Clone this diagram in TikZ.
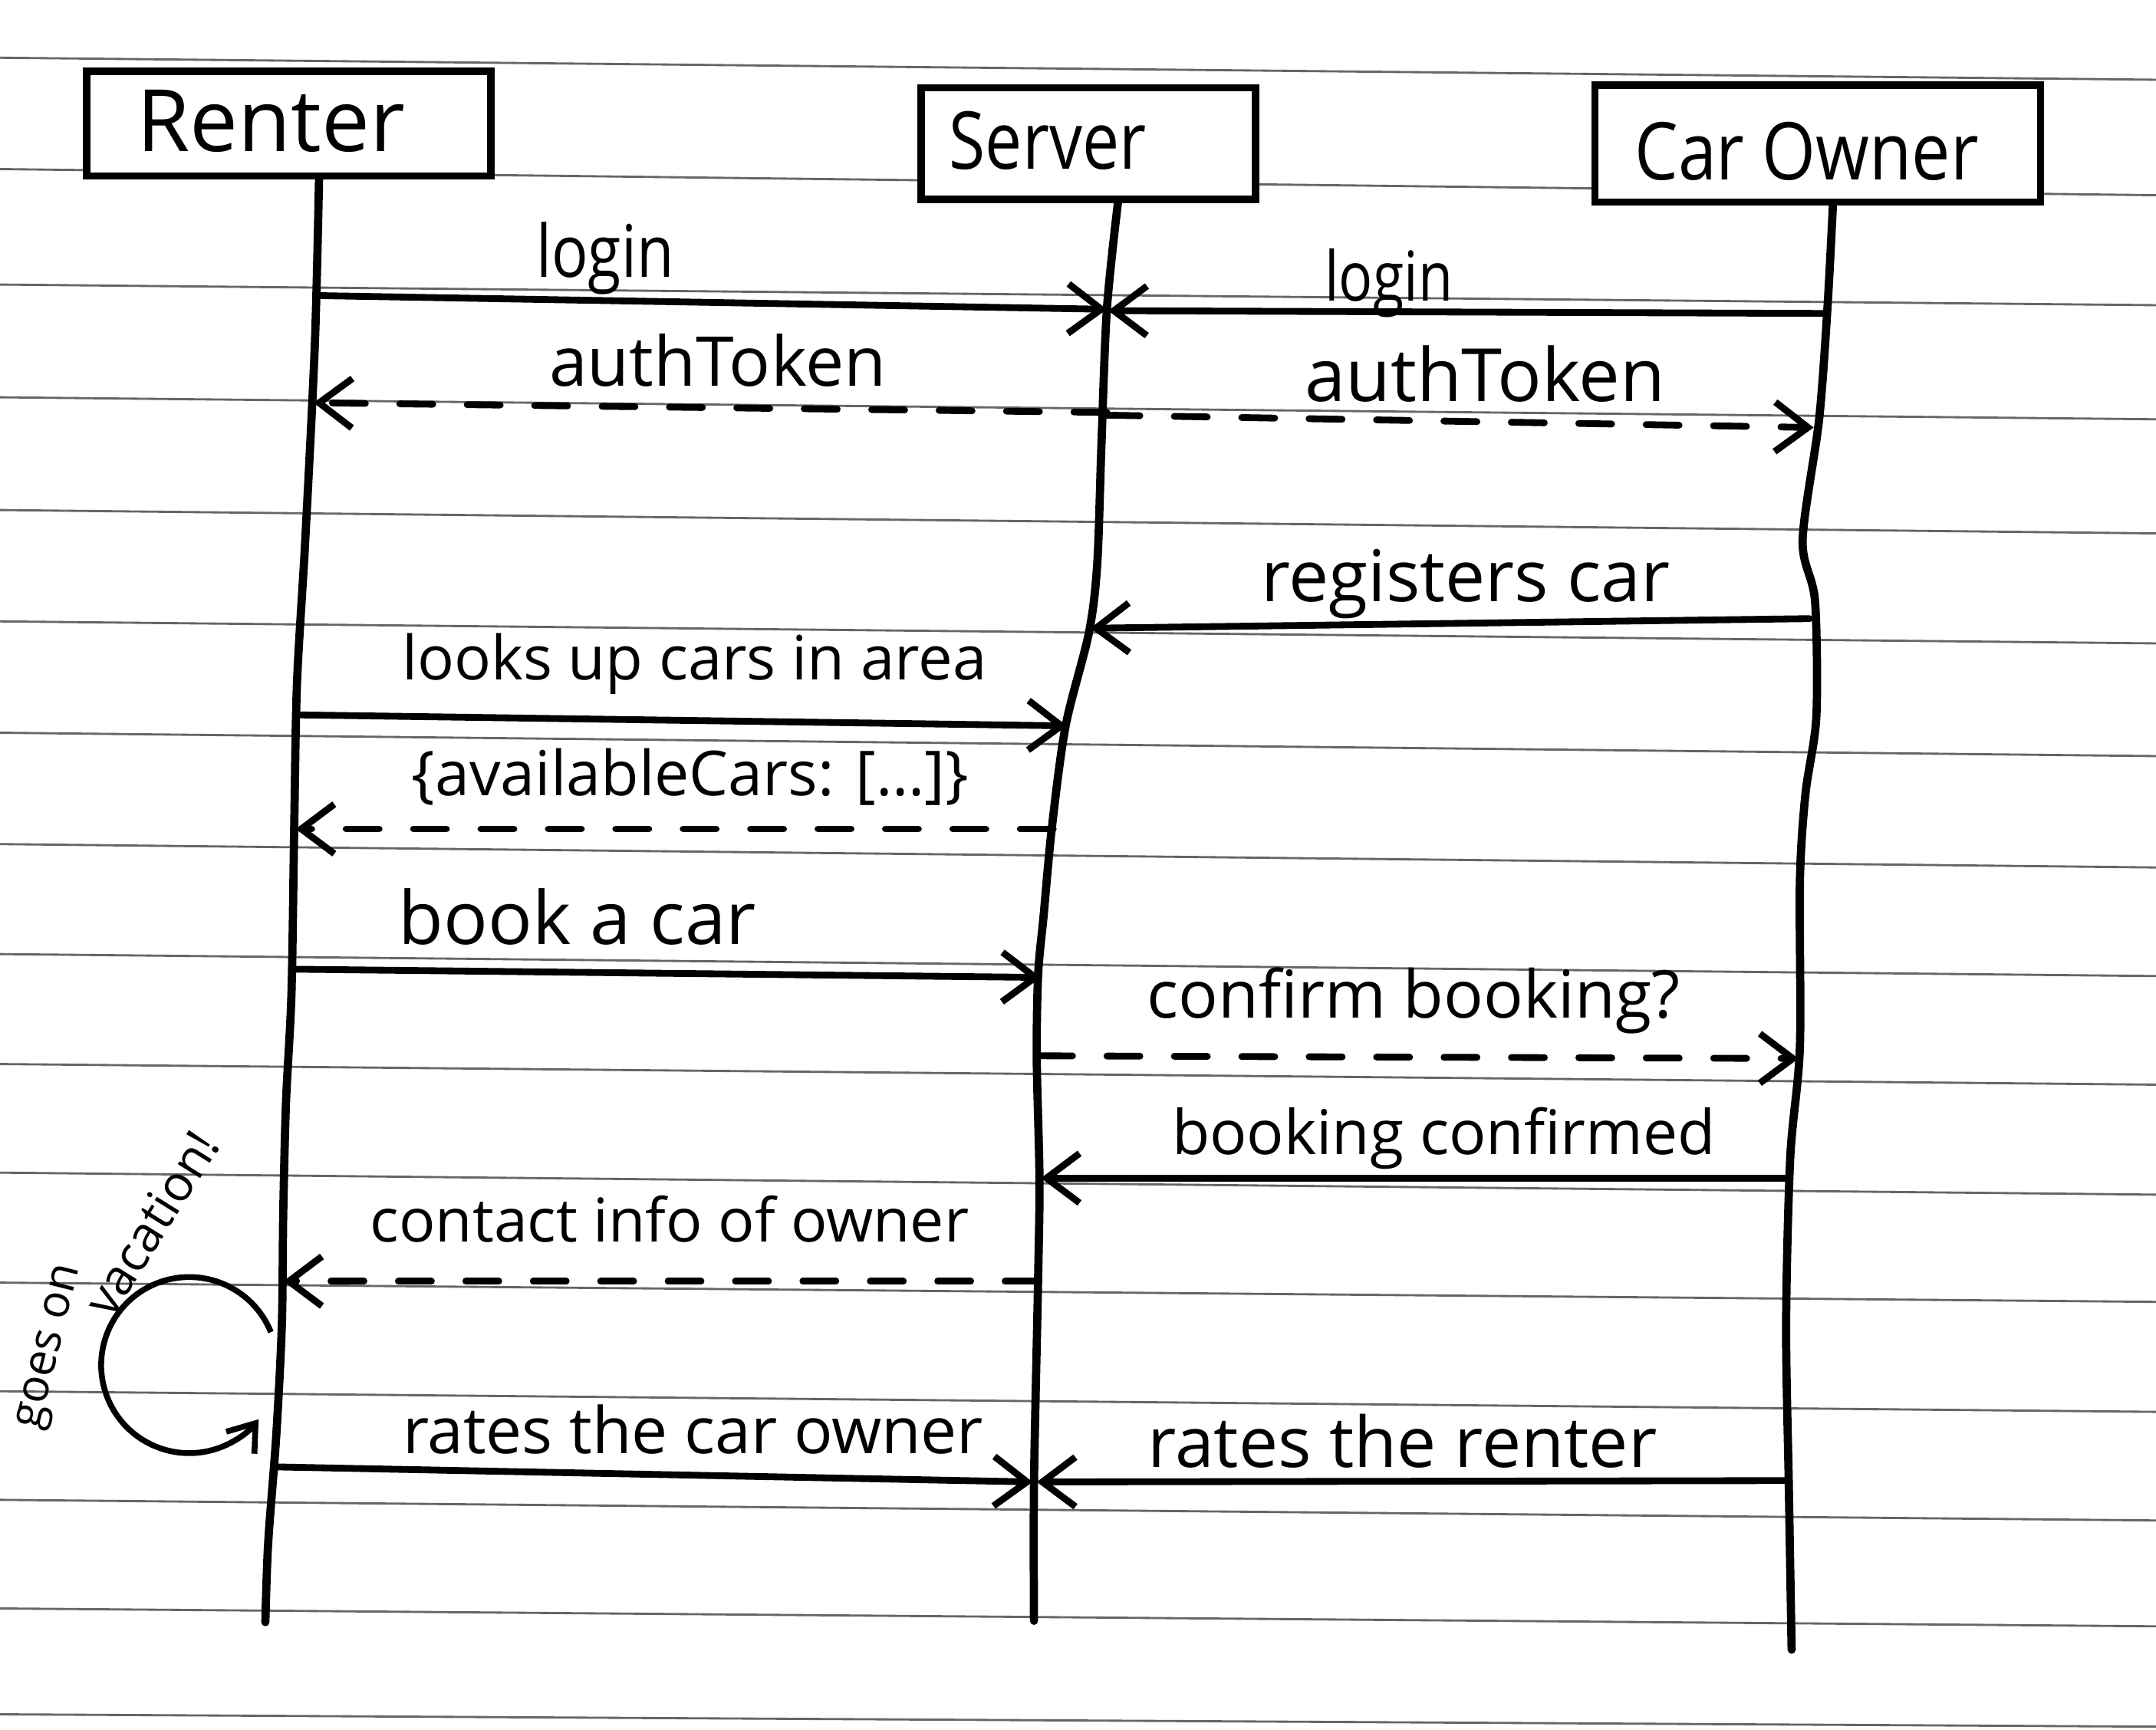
\documentclass[tikz,border=0pt]{standalone}
\usepackage{fontspec}
\setmainfont{Open Sans}
\usetikzlibrary{arrows.meta}
\newcommand{\hw}[2]{\resizebox{#1cm}{!}{#2}}
\newcommand{\hwh}[3]{\resizebox{#1cm}{#2cm}{#3}}
\begin{document}
\begin{tikzpicture}[x=0.01cm,y=-0.01cm,
  paper/.style={black!60, line width=0.45pt},
  actor/.style={draw, line width=1.5pt, fill=white, inner sep=0pt},
  life/.style={line width=1.7pt, line cap=round, line join=round},
  msg/.style={line width=1.4pt, line cap=round, -{Straight Barb[length=2.4mm,width=3.6mm,line width=1.4pt]}},
  reply/.style={msg, dash pattern=on 2.4mm off 2.5mm},
  lbl/.style={inner sep=0pt}
]
\fill[white] (0,0) rectangle (1568,1258);
\useasboundingbox (0,0) rectangle (1568,1258);

% ruled paper
\foreach \a/\b in {42/58,123/142,207/222,289/305,371/388,452/468,533/550,614/631,694/710,774/789,853/869,933/947,1012/1027,1091/1106,1170/1183,1247/1256}
  \draw[paper] (0,\a) -- (1568,\b);

% actors
\node[actor, minimum width=2.94cm, minimum height=0.76cm] (renter) at (210,90) {};
\node[actor, minimum width=2.43cm, minimum height=0.81cm] (server) at (791.5,104.5) {};
\node[actor, minimum width=3.24cm, minimum height=0.85cm] (owner) at (1322,104.5) {};
\node[lbl] (renterT) at (197,88) {\hw{1.95}{Renter}};
\node[lbl] (serverT) at (762,102) {\hwh{1.43}{0.42}{Server}};
\node[lbl] (ownerT) at (1314,110) {\hwh{2.50}{0.42}{Car Owner}};

% lifelines
\draw[life] plot[smooth, tension=0.5] coordinates {([xshift=0.22cm]renter.south) (229,250) (222,393) (216,497) (214,600) (212,722) (208,802) (206,882) (205,963) (201,1043) (195,1123) (193,1180)};
\draw[life] plot[smooth, tension=0.5] coordinates {([xshift=0.215cm]server.south) (805,225) (801,325) (798,410) (792,460) (775,528) (765,602) (759,666) (755,709) (754,770) (756,858) (755,930) (752,1079) (752,1179)};
\draw[life] plot[smooth, tension=0.5] coordinates {([xshift=0.11cm]owner.south) (1329,225) (1323,305) (1311,393) (1320,437) (1321,521) (1313,578) (1309,642) (1309,762) (1302,842) (1299,963) (1301,1083) (1303,1200)};

% message end points
\coordinate (rLogin) at (230,215);   \coordinate (sLoginA) at (805,225);
\coordinate (oLogin) at (1328,228);  \coordinate (sLoginB) at (806,226);
\coordinate (sTokA) at (805,300);    \coordinate (rTok) at (228,293);
\coordinate (sTokB) at (805,302);    \coordinate (oTok) at (1319,311);
\coordinate (oReg) at (1316,450);    \coordinate (sReg) at (793,457);
\coordinate (rLook) at (216,520);    \coordinate (sLook) at (776,528);
\coordinate (sAvail) at (766,603);   \coordinate (rAvail) at (215,603);
\coordinate (rBook) at (213,705);    \coordinate (sBook) at (757,711);
\coordinate (sConf) at (756,768);    \coordinate (oConf) at (1308,770);
\coordinate (oDone) at (1301,857);   \coordinate (sDone) at (757,857);
\coordinate (sInfo) at (755,932);    \coordinate (rInfo) at (206,932);
\coordinate (rRate) at (199,1067);   \coordinate (sRateA) at (751,1078);
\coordinate (oRate) at (1301,1077);  \coordinate (sRateB) at (754,1078);

% messages
\draw[msg] (rLogin) -- (sLoginA);
\draw[msg] (oLogin) -- (sLoginB);
\draw[reply] (sTokA) -- (rTok);
\draw[reply] (sTokB) -- (oTok);
\draw[msg] (oReg) -- (sReg);
\draw[msg] (rLook) -- (sLook);
\draw[reply] (sAvail) -- (rAvail);
\draw[msg] (rBook) -- (sBook);
\draw[reply] (sConf) -- (oConf);
\draw[msg] (oDone) -- (sDone);
\draw[reply] (sInfo) -- (rInfo);
\draw[msg] (rRate) -- (sRateA);
\draw[msg] (oRate) -- (sRateB);

% labels
\node[lbl] (l1) at (440,188) {\hwh{1.00}{0.40}{login}};
\node[lbl] (l2) at (1010,206) {\hwh{0.93}{0.38}{login}};
\node[lbl] (l3) at (522,262) {\hw{2.45}{authToken}};
\node[lbl] (l4) at (1080,272) {\hw{2.62}{authToken}};
\node[lbl] (l5) at (1066,425) {\hw{2.97}{registers car}};
\node[lbl] (l6) at (505,483) {\hw{4.25}{looks up cars in area}};
\node[lbl] (l7) at (502,565) {\hw{4.05}{\{availableCars: […]\}}};
\node[lbl] (l8) at (420,667) {\hw{2.60}{book a car}};
\node[lbl] (l9) at (1028,728) {\hw{3.87}{confirm booking?}};
\node[lbl] (l10) at (1050,828) {\hw{3.95}{booking confirmed}};
\node[lbl] (l11) at (487,887) {\hw{4.35}{contact info of owner}};
\node[lbl] (l12) at (504,1040) {\hw{4.22}{rates the car owner}};
\node[lbl] (l13) at (1020,1048) {\hw{3.70}{rates the renter}};

% self loop
\coordinate (loopS) at (197,969);
\draw[line width=1.2pt, -{Straight Barb[length=1.8mm,width=2.6mm,line width=1.2pt]}] (loopS) arc[start angle=22, end angle=322, radius=0.64cm];
\node[lbl, rotate=76] (vac1) at (38,980) {\hw{1.22}{goes on}};
\node[lbl, rotate=58] (vac2) at (110,890) {\hw{1.50}{vacation!}};
\end{tikzpicture}
\end{document}
